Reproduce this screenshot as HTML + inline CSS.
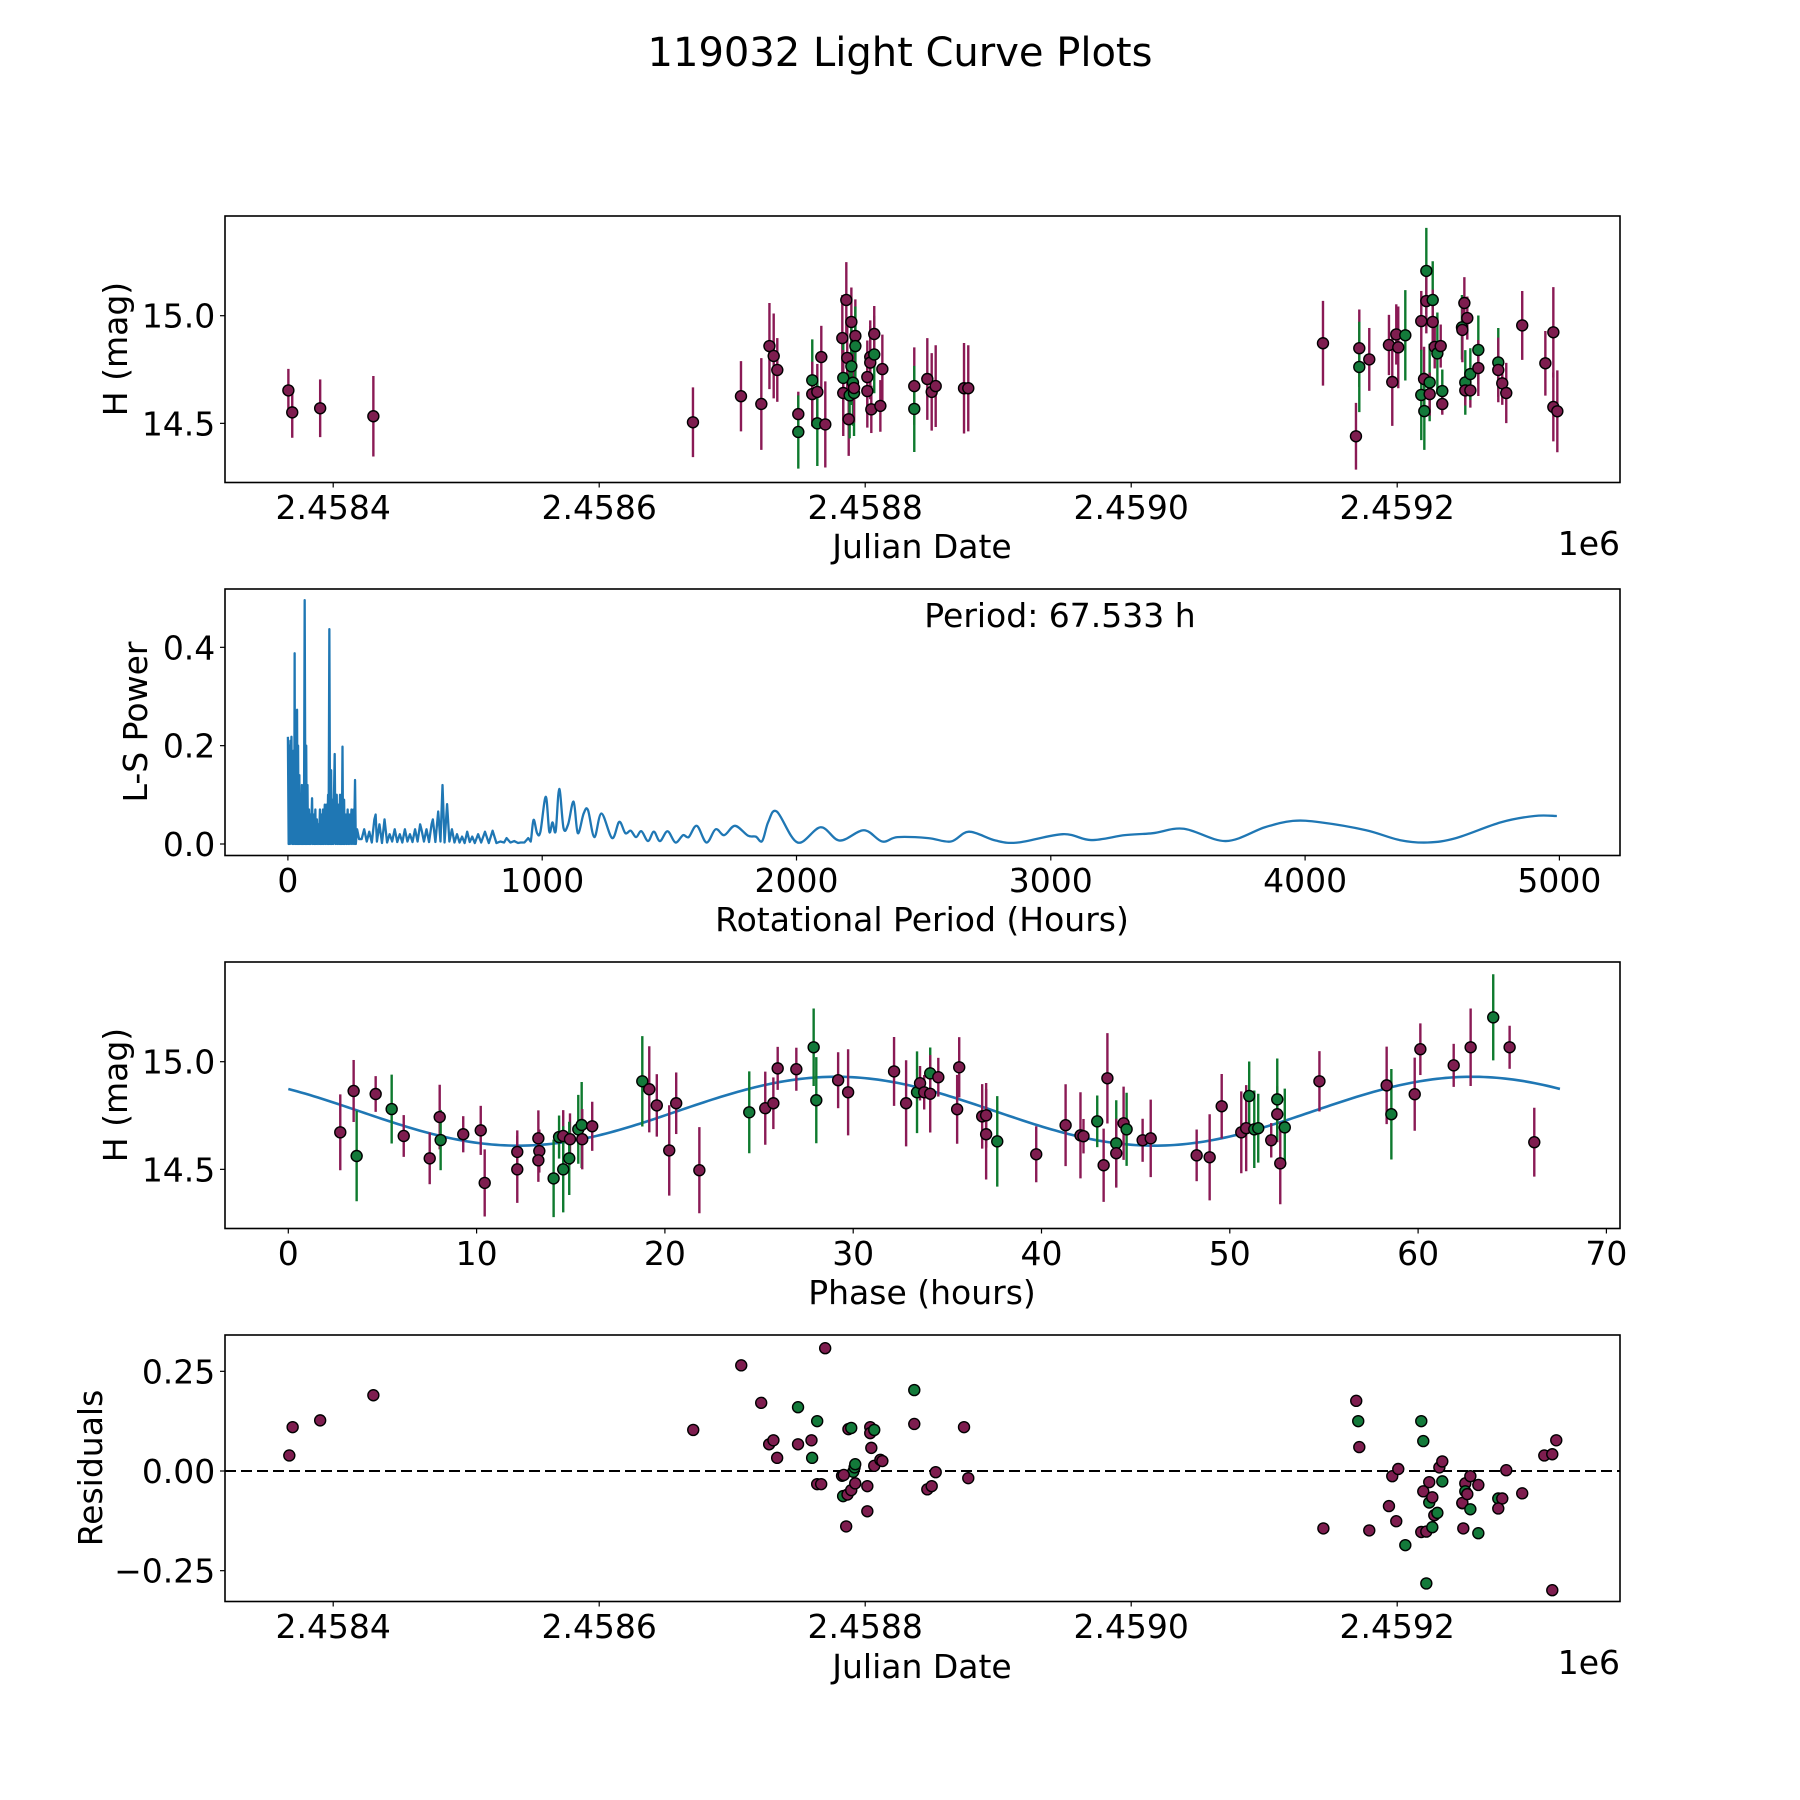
<!DOCTYPE html>
<html><head><meta charset="utf-8"><title>119032 Light Curve Plots</title>
<style>
html,body{margin:0;padding:0;background:#fff;}
svg{display:block;font-family:"DejaVu Sans","Liberation Sans",sans-serif;}
</style></head>
<body>
<svg id="fig" xmlns="http://www.w3.org/2000/svg" width="1800" height="1800" viewBox="0 0 1800 1800">
<rect x="0" y="0" width="1800" height="1800" fill="#fff"/>
<text x="900" y="66" font-size="40" text-anchor="middle" fill="#000">119032 Light Curve Plots</text>
<g id="p1"></g>
<g id="p2"></g>
<g id="p3"></g>
<g id="p4"></g>
</svg>
<script>
// ---------- Panel 1: light curve ----------
const obsJD=[2458366.3,2458369.2,2458390.2,2458430.2,
2458670.5,2458706.6,2458721.9,2458728,2458731.2,2458733.9,2458749.7,2458749.7,2458760.2,2458760.2,2458764,2458764,2458767,2458770,2458782.8,2458783.5,2458783.5,2458785.8,2458786.5,2458787.6,2458788.3,2458789.6,2458789.6,2458790.8,2458791.6,2458791.6,2458792.6,2458792.6,2458801.6,2458801.6,2458803.8,2458803.8,2458804.6,2458806.8,2458806.8,2458811.4,2458812.9,2458836.9,2458836.9,2458846.7,2458850,2458853,2458874.3,2458877.5,
2459144.2,2459171.5,2459171.5,2459169,2459179,2459193.8,2459196.3,2459199.3,2459200.8,2459206.1,2459218.1,2459218.1,2459220.2,2459220.4,2459221.9,2459221.9,2459224.4,2459224.4,2459226.7,2459226.7,2459228.2,2459230.2,2459232.7,2459233.9,2459233.9,2459248.7,2459249,2459250.5,2459252.7,2459251.2,2459251.2,2459255,2459255,2459261,2459261,2459276,2459276,2459279,2459282,2459294,2459311.4,2459317.4,2459317.4,2459320.4];
const obsMag=[14.653,14.551,14.57,14.533,
14.505,14.626,14.59,14.859,14.813,14.748,14.543,14.46,14.70,14.636,14.646,14.50,14.808,14.495,14.896,14.711,14.641,15.073,14.804,14.519,14.63,14.971,14.765,14.689,14.641,14.664,14.906,14.859,14.715,14.65,14.808,14.782,14.565,14.82,14.915,14.581,14.752,14.673,14.567,14.706,14.646,14.673,14.663,14.663,
14.872,14.849,14.762,14.44,14.797,14.864,14.692,14.913,14.853,14.909,14.975,14.632,14.706,14.557,15.208,15.068,14.69,14.636,15.073,14.971,14.855,14.825,14.859,14.65,14.59,14.946,14.934,15.059,14.989,14.69,14.653,14.653,14.729,14.841,14.757,14.783,14.748,14.686,14.641,14.955,14.779,14.923,14.576,14.556];
const obsErr=[0.10,0.118,0.134,0.187,
0.162,0.163,0.213,0.2,0.197,0.148,0.104,0.17,0.19,0.15,0.13,0.198,0.145,0.2,0.2,0.2,0.2,0.176,0.17,0.17,0.2,0.16,0.18,0.2,0.2,0.16,0.17,0.184,0.17,0.17,0.17,0.17,0.11,0.18,0.13,0.12,0.16,0.18,0.2,0.19,0.18,0.19,0.21,0.2,
0.197,0.18,0.21,0.155,0.146,0.14,0.204,0.14,0.19,0.21,0.14,0.21,0.15,0.18,0.2,0.15,0.18,0.1,0.18,0.15,0.1,0.19,0.1,0.1,0.05,0.15,0.15,0.12,0.1,0.15,0.07,0.08,0.12,0.16,0.13,0.16,0.15,0.1,0.14,0.16,0.15,0.21,0.16,0.19];
const obsBand=['r','r','r','r',
'r','r','r','r','r','r','r','g','g','r','r','g','r','r','r','g','r','r','r','r','g','r','g','g','g','r','r','g','r','r','r','r','r','g','r','r','r','r','g','r','r','r','r','r',
'r','r','g','r','r','r','r','r','r','g','r','g','r','g','g','r','g','r','g','r','r','g','r','g','r','g','r','r','r','g','r','r','g','g','r','g','r','r','r','r','r','r','r','r'];
const jdTicks=[2458400,2458600,2458800,2459000,2459200];
const jdTickLabels=['2.4584','2.4586','2.4588','2.4590','2.4592'];
const magTicks=[15.0,14.5];
const magTickLabels=['15.0','14.5'];

// ---------- Panel 2: periodogram ----------
const lsPeriod=[0,3,5,8,10,12,14,17,19,21,23,25,26.5,28,30,32,34,36,38,40,42,45,47,50,52,55,57,60,63,66,69,72,74,77,79,83,85,88,90,95,98,102,104,108,110,114,116,120,122,126,128,132,134,138,140,145,147,152,154,158,160,163,166,170,172,176,178,184,187,192,194,199,201,205,207,211,212,214.7,217,221,223,228,230,235,237,242,244,250,252,258,260,264,267,272,280,
290,300,310,320,330,340,345,350,360,370,380,390,400,410,420,430,440,450,460,470,480,490,500,510,520,525,535,545,555,565,570,580,591,600,608,616,626,635,645,655,665,675,685,695,705,715,725,735,748,760,775,790,805,820,835,850,860,875,890,905,915,930,945,954.8,
966,980,993,1014,1028,1040.5,1053,1067,1084,1102,1123.5,1140,1163,1180,1205,1233,1275,1303,1327,1348,1369,1390,1416,1439,1463,1493,1524,1554,1576,1608,1646,1682,1716,1758,1809,1840,1865,1889,1922.6,2004,2095,2170,2265,2337,2397,2518,2607,2678,2783,2871,3048,3158,3291,3401,3523,3688,3842,3952,4062,4240,4372,4482,4593,4769,4902,4990];
const lsPower=[0.218,0,0.20,0,0.21,0.02,0.218,0,0.15,0,0.19,0.01,0.388,0,0.25,0,0.27,0.273,0,0.2,0,0.14,0,0.1,0,0.12,0,0.08,0,0.496,0,0.2,0,0.12,0,0.07,0,0.06,0,0.093,0,0.06,0,0.07,0,0.05,0,0.04,0,0.07,0,0.06,0,0.07,0,0.08,0,0.08,0,0.1,0,0.437,0,0.15,0,0.09,0,0.183,0,0.1,0,0.08,0,0.1,0,0.1,0,0.198,0,0.09,0,0.06,0,0.07,0,0.06,0,0.07,0,0.07,0,0.13,0,0.03,0.01,
0.01,0.03,0.005,0.025,0.003,0.05,0.06,0.005,0.04,0.002,0.05,0.003,0.02,0.005,0.03,0.004,0.02,0.003,0.03,0.005,0.02,0.004,0.03,0.005,0.04,0.03,0.005,0.03,0.004,0.04,0.05,0.004,0.066,0.005,0.12,0.003,0.081,0.005,0.03,0.003,0.02,0.003,0.015,0.002,0.025,0.004,0.015,0.002,0.02,0.003,0.025,0.002,0.027,0.002,0.005,0.003,0.012,0.003,0.006,0.002,0.003,0.003,0.012,0.005,
0.049,0.022,0.025,0.096,0.025,0.044,0.026,0.112,0.032,0.04,0.086,0.022,0.062,0.069,0.014,0.062,0.012,0.045,0.022,0.027,0.014,0.026,0.006,0.025,0.006,0.026,0.003,0.018,0.014,0.037,0.003,0.03,0.018,0.037,0.017,0.015,0.006,0.045,0.066,0.003,0.034,0.007,0.028,0.005,0.014,0.012,0.005,0.025,0.007,0.003,0.02,0.008,0.018,0.022,0.031,0.006,0.034,0.047,0.044,0.028,0.008,0.003,0.012,0.044,0.057,0.057];
const periodTicks=[0,1000,2000,3000,4000,5000];
const periodTickLabels=['0','1000','2000','3000','4000','5000'];
const powerTicks=[0.0,0.2,0.4];
const powerTickLabels=['0.0','0.2','0.4'];
const bestPeriodLabel=['Period: 67.533 h'];

// ---------- Panel 3: phase folded ----------
const phase=[2.76,3.47,3.63,4.64,5.49,6.13,7.51,8.04,8.09,9.29,10.22,10.43,12.16,12.16,13.28,13.33,13.28,14.09,14.38,14.6,14.6,14.96,14.92,15.4,15.58,15.61,16.14,18.8,19.17,19.57,20.23,20.6,21.83,
24.48,25.33,25.76,25.99,26.98,27.9,28.04,29.2,29.73,32.17,32.81,33.39,33.55,33.77,34.09,34.09,34.52,35.63,35.52,36.85,37.06,37.06,37.65,39.72,41.28,42.07,42.23,42.96,43.5,43.3,43.97,43.97,44.36,44.52,45.37,45.8,48.24,48.93,49.57,
50.61,50.87,51.03,51.3,51.51,52.2,52.52,52.52,52.68,52.92,54.76,58.33,58.58,59.82,60.12,61.89,62.79,63.99,64.86,66.17];
const phaseMag=[14.672,14.864,14.562,14.85,14.78,14.655,14.551,14.743,14.636,14.663,14.681,14.437,14.581,14.5,14.644,14.585,14.542,14.458,14.65,14.655,14.5,14.64,14.551,14.686,14.706,14.64,14.7,14.909,14.872,14.797,14.588,14.807,14.496,
14.765,14.784,14.807,14.969,14.965,15.067,14.821,14.914,14.858,14.955,14.807,14.858,14.9,14.858,14.946,14.851,14.928,14.974,14.779,14.746,14.751,14.663,14.63,14.57,14.705,14.658,14.654,14.723,14.923,14.519,14.621,14.575,14.714,14.686,14.635,14.644,14.565,14.556,14.793,
14.672,14.691,14.841,14.686,14.691,14.635,14.756,14.825,14.528,14.695,14.909,14.89,14.756,14.849,15.058,14.983,15.067,15.206,15.067,14.626];
const phaseErr=[0.176,0.144,0.21,0.083,0.16,0.097,0.12,0.15,0.14,0.084,0.114,0.156,0.1,0.156,0.13,0.1,0.1,0.18,0.1,0.12,0.2,0.12,0.17,0.16,0.2,0.14,0.114,0.21,0.2,0.145,0.21,0.143,0.2,
0.19,0.17,0.12,0.1,0.1,0.18,0.2,0.13,0.2,0.16,0.2,0.19,0.08,0.08,0.12,0.18,0.09,0.14,0.16,0.15,0.15,0.21,0.21,0.13,0.19,0.2,0.08,0.12,0.21,0.17,0.2,0.16,0.17,0.17,0.1,0.18,0.12,0.2,0.15,
0.19,0.2,0.16,0.18,0.16,0.08,0.13,0.19,0.19,0.18,0.14,0.18,0.21,0.17,0.12,0.1,0.18,0.2,0.1,0.16];
const phaseBand=['r','r','g','r','g','r','r','r','g','r','r','r','r','r','r','r','r','g','g','r','g','r','g','g','g','r','r','g','r','r','r','r','r',
'g','r','r','r','r','g','g','r','r','r','r','g','r','r','g','r','r','r','r','r','r','r','g','r','r','r','r','g','r','r','g','r','r','g','r','r','r','r','r',
'r','r','g','g','g','r','r','g','r','g','r','r','g','r','r','r','r','g','r','r'];
// model: mean, amplitude, peak phase, harmonic period (hours), fold period (hours)
const modelParams=[14.77,0.16,29.1,33.77,67.533];
const phaseTicks=[0,10,20,30,40,50,60,70];
const phaseTickLabels=['0','10','20','30','40','50','60','70'];

// ---------- Panel 4: residuals ----------
const resJD=[2458367,2458369.5,2458390.2,2458430.2,
2458670.7,2458706.8,2458721.8,2458727.8,2458731,2458733.8,2458749.5,2458749.5,2458759.6,2458760.1,2458763.9,2458763.9,2458766.9,2458769.9,2458782.6,2458783.4,2458785.7,2458786.7,2458787.4,2458789.5,2458789.5,2458791,2458792,2458792.5,2458792.5,2458783.9,2458803.8,2458803.8,2458806.8,2458804.6,2458806.8,2458811.4,2458812.9,2458801.6,2458801.6,2458836.9,2458836.9,2458846.7,2458850,2458853,2458874.3,2458877.5,
2459169.2,2459170.7,2459171.5,2459144.5,2459179,2459193.8,2459196.3,2459199.3,2459200.8,2459206.1,2459218.1,2459219.6,2459218.1,2459221.9,2459221.9,2459219.6,2459224.1,2459224.1,2459226.4,2459226.4,2459227.9,2459230.2,2459231.7,2459233.9,2459233.9,2459249,2459249,2459249.7,2459251.2,2459251.2,2459252.7,2459255,2459255,2459261,2459261,2459276,2459279,2459276,2459282,2459294,2459310.6,2459316.6,2459319.6,2459316.6];
const resVal=[0.039,0.11,0.127,0.19,
0.103,0.265,0.171,0.067,0.077,0.033,0.16,0.067,0.077,0.033,0.125,-0.033,-0.033,0.308,-0.012,-0.063,-0.139,-0.059,0.105,0.108,-0.048,-0.002,0.009,0.017,-0.031,-0.01,0.11,0.095,0.103,0.058,0.013,0.028,0.025,-0.038,-0.101,0.203,0.118,-0.046,-0.038,-0.003,0.11,-0.018,
0.176,0.125,0.06,-0.144,-0.149,-0.088,-0.013,-0.126,0.005,-0.186,0.125,0.075,-0.153,-0.152,-0.282,-0.051,-0.028,-0.079,-0.066,-0.141,-0.111,-0.105,0.009,0.024,-0.026,-0.081,-0.08,-0.144,-0.031,-0.051,-0.058,-0.013,-0.096,-0.035,-0.156,-0.069,-0.069,-0.094,0.002,-0.056,0.039,0.042,0.077,-0.299];
const resBand=['r','r','r','r',
'r','r','r','r','r','r','g','r','r','g','g','r','r','r','r','g','r','r','r','g','r','g','g','g','r','r','r','r','g','r','r','r','r','r','r','g','r','r','r','r','r','r',
'r','g','r','r','r','r','r','r','r','g','g','g','r','r','g','r','r','g','r','g','r','g','r','r','g','g','r','r','r','g','r','r','g','r','g','g','r','r','r','r','r','r','r','r'];
const resTicks=[0.25,0.0,-0.25];
const resTickLabels=['0.25','0.00','\u22120.25'];

// ---------- geometry ----------
const NS='http://www.w3.org/2000/svg';
const AX_L=225, AX_R=1620, AX_H=266.5;
const P_TOP=[216,589,962,1335];
const FILL={r:'#7e1d4f',g:'#137a3a'};
const ECOL={r:'#8a1a55',g:'#0e7a2e'};
function mk(tag,attrs,parent){const e=document.createElementNS(NS,tag);for(const k in attrs)e.setAttribute(k,attrs[k]);parent.appendChild(e);return e;}

function xJD(jd){return 333.2+(jd-2458400)*1.33;}
function yMag1(m){return 315.7+(15-m)*215.3;}
function xPer(h){return 287.9+h*0.2543;}
function yPow(p){return 844-p*491.7;}
function xPh(p){return 288.3+p*18.83;}
function yMag3(m){return 1061.7+(15-m)*215.3;}
function yRes(r){return 1471-r*398.7;}

function frame(g,top){
  const r=mk('rect',{x:AX_L,y:top,width:AX_R-AX_L,height:AX_H,fill:'none',stroke:'#000','stroke-width':1.6},g);
  
  
}
function xTicks(g,top,vals,labels,fx,name){
  const bottom=top+AX_H;
  vals.forEach((v,i)=>{
    const x=fx(v);
    const t=mk('line',{x1:x,x2:x,y1:bottom,y2:bottom+5,stroke:'#000','stroke-width':1.2},g);
    
    
    const tx=mk('text',{x:x,y:bottom+36.5,'font-size':33,'text-anchor':'middle',fill:'#000'},g);
    tx.textContent=labels[i];
    
    
  });
}
function yTicks(g,vals,labels,fy,name){
  vals.forEach((v,i)=>{
    const y=fy(v);
    const t=mk('line',{x1:AX_L-5,x2:AX_L,y1:y,y2:y,stroke:'#000','stroke-width':1.2},g);
    
    
    const tx=mk('text',{x:AX_L-9.7,y:y+12,'font-size':33,'text-anchor':'end',fill:'#000'},g);
    tx.textContent=labels[i];
    
    
  });
}
function label(g,txt,x,y,rot,name,anchor){
  const t=mk('text',{x:x,y:y,'font-size':33,'text-anchor':anchor||'middle',fill:'#000'},g);
  if(rot)t.setAttribute('transform','rotate(-90 '+x+' '+y+')');
  t.textContent=txt;
  
  
}
function errPoints(g,xs,ys,es,bands,fx,fy,name){
  xs.forEach((xv,i)=>{
    const x=fx(xv);
    const l=mk('line',{x1:x,x2:x,y1:fy(ys[i]-es[i]),y2:fy(ys[i]+es[i]),stroke:ECOL[bands[i]],'stroke-width':2.4},g);
    
    
  });
  xs.forEach((xv,i)=>{
    const c=mk('circle',{cx:fx(xv),cy:fy(ys[i]),r:5.5,fill:FILL[bands[i]],stroke:'#000','stroke-width':1.4},g);
    
    
  });
}

// Panel 1
(function(){
  const g=document.getElementById('p1'), top=P_TOP[0];
  const cp=mk('clipPath',{id:'c1'},g); mk('rect',{x:AX_L,y:top,width:AX_R-AX_L,height:AX_H},cp);
  const d=mk('g',{'clip-path':'url(#c1)'},g);
  
  
  errPoints(d,obsJD,obsMag,obsErr,obsBand,xJD,yMag1,'observation');
  frame(g,top);
  xTicks(g,top,jdTicks,jdTickLabels,xJD,'jd-x-axis');
  yTicks(g,magTicks,magTickLabels,yMag1,'mag-y-axis');
  label(g,'Julian Date',922,558,false,'x-axis-title');
  label(g,'1e6',1620,555,false,'x-axis-offset','end');
  label(g,'H (mag)',127,349,true,'y-axis-title');
})();

// Panel 2
(function(){
  const g=document.getElementById('p2'), top=P_TOP[1];
  const pts=lsPeriod.map((h,i)=>[xPer(h),yPow(lsPower[i])]);
  const SMOOTH_FROM=950;
  let dstr='';
  pts.forEach((p,i)=>{
    if(i===0){dstr+='M'+p[0].toFixed(2)+' '+p[1].toFixed(2);return;}
    if(lsPeriod[i-1]>=SMOOTH_FROM){
      const p0=pts[i-2]||pts[i-1], p1=pts[i-1], p3=pts[i+1]||p;
      const c1=[p1[0]+(p[0]-p0[0])/6,p1[1]+(p[1]-p0[1])/6];
      const c2=[p[0]-(p3[0]-p1[0])/6,p[1]-(p3[1]-p1[1])/6];
      dstr+='C'+c1[0].toFixed(2)+' '+c1[1].toFixed(2)+' '+c2[0].toFixed(2)+' '+c2[1].toFixed(2)+' '+p[0].toFixed(2)+' '+p[1].toFixed(2);
    } else {
      dstr+='L'+p[0].toFixed(2)+' '+p[1].toFixed(2);
    }
  });
  const p=mk('path',{d:dstr,fill:'none',stroke:'#1f77b4','stroke-width':2.3,'stroke-linejoin':'round'},g);
  
  
  frame(g,top);
  xTicks(g,top,periodTicks,periodTickLabels,xPer,'period-x-axis');
  yTicks(g,powerTicks,powerTickLabels,yPow,'power-y-axis');
  label(g,'Rotational Period (Hours)',922,931,false,'x-axis-title');
  label(g,'L-S Power',147,722,true,'y-axis-title');
  label(g,bestPeriodLabel[0],1060,627,false,'best-period-annotation');
})();

// Panel 3
(function(){
  const g=document.getElementById('p3'), top=P_TOP[2];
  const cp=mk('clipPath',{id:'c3'},g); mk('rect',{x:AX_L,y:top,width:AX_R-AX_L,height:AX_H},cp);
  const d=mk('g',{'clip-path':'url(#c3)'},g);
  
  
  const [mean,amp,pk,hp,fold]=modelParams;
  let s='';
  for(let i=0;i<=300;i++){const ph=fold*i/300;const m=mean+amp*Math.cos(2*Math.PI*(ph-pk)/hp);s+=(i?'L':'M')+xPh(ph).toFixed(2)+' '+yMag3(m).toFixed(2);}
  const mc=mk('path',{d:s,fill:'none',stroke:'#1f77b4','stroke-width':2.6},d);
  
  
  errPoints(d,phase,phaseMag,phaseErr,phaseBand,xPh,yMag3,'phased-observation');
  frame(g,top);
  xTicks(g,top,phaseTicks,phaseTickLabels,xPh,'phase-x-axis');
  yTicks(g,magTicks,magTickLabels,yMag3,'mag-y-axis');
  label(g,'Phase (hours)',922,1304,false,'x-axis-title');
  label(g,'H (mag)',127,1095,true,'y-axis-title');
})();

// Panel 4
(function(){
  const g=document.getElementById('p4'), top=P_TOP[3];
  const z=mk('line',{x1:AX_L,x2:AX_R,y1:yRes(0),y2:yRes(0),stroke:'#000','stroke-width':2,'stroke-dasharray':'11 5'},g);
  
  
  resJD.forEach((jd,i)=>{
    const c=mk('circle',{cx:xJD(jd),cy:yRes(resVal[i]),r:5.5,fill:FILL[resBand[i]],stroke:'#000','stroke-width':1.4},g);
    
    
  });
  frame(g,top);
  xTicks(g,top,jdTicks,jdTickLabels,xJD,'jd-x-axis');
  yTicks(g,resTicks,resTickLabels,yRes,'residual-y-axis');
  label(g,'Julian Date',922,1678,false,'x-axis-title');
  label(g,'1e6',1620,1674,false,'x-axis-offset','end');
  label(g,'Residuals',102,1468,true,'y-axis-title');
})();
</script>
</body></html>
